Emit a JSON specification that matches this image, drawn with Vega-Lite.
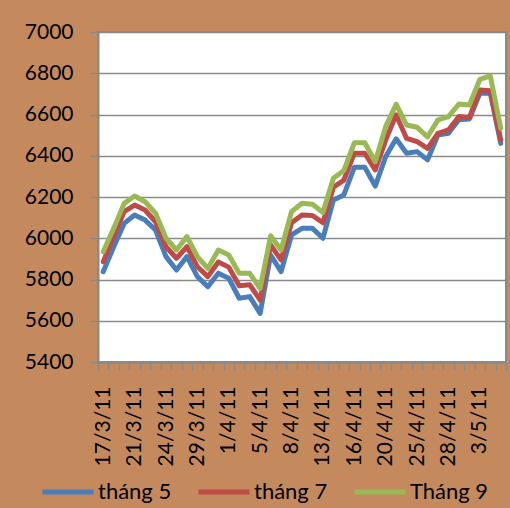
{
"$schema": "https://vega.github.io/schema/vega-lite/v6.json",
"width": 408, "height": 330,
"autosize": {"type": "none"},
"padding": {"left": 98, "top": 32, "right": 4, "bottom": 146},
"background": "#C48A5E",
"data": {"values": [
{"d":"17/3/11","s":"tháng 5","v":5838},{"d":"18/3/11","s":"tháng 5","v":5959},{"d":"19/3/11","s":"tháng 5","v":6072},{"d":"21/3/11","s":"tháng 5","v":6113},{"d":"22/3/11","s":"tháng 5","v":6088},{"d":"23/3/11","s":"tháng 5","v":6040},{"d":"24/3/11","s":"tháng 5","v":5911},{"d":"25/3/11","s":"tháng 5","v":5846},{"d":"28/3/11","s":"tháng 5","v":5911},{"d":"29/3/11","s":"tháng 5","v":5814},{"d":"30/3/11","s":"tháng 5","v":5765},{"d":"31/3/11","s":"tháng 5","v":5830},{"d":"1/4/11","s":"tháng 5","v":5806},{"d":"2/4/11","s":"tháng 5","v":5709},{"d":"4/4/11","s":"tháng 5","v":5717},{"d":"5/4/11","s":"tháng 5","v":5636},{"d":"6/4/11","s":"tháng 5","v":5919},{"d":"7/4/11","s":"tháng 5","v":5838},{"d":"8/4/11","s":"tháng 5","v":6016},{"d":"11/4/11","s":"tháng 5","v":6048},{"d":"12/4/11","s":"tháng 5","v":6048},{"d":"13/4/11","s":"tháng 5","v":6000},{"d":"14/4/11","s":"tháng 5","v":6185},{"d":"15/4/11","s":"tháng 5","v":6210},{"d":"16/4/11","s":"tháng 5","v":6344},{"d":"18/4/11","s":"tháng 5","v":6344},{"d":"19/4/11","s":"tháng 5","v":6253},{"d":"20/4/11","s":"tháng 5","v":6396},{"d":"21/4/11","s":"tháng 5","v":6482},{"d":"22/4/11","s":"tháng 5","v":6412},{"d":"25/4/11","s":"tháng 5","v":6420},{"d":"26/4/11","s":"tháng 5","v":6380},{"d":"27/4/11","s":"tháng 5","v":6501},{"d":"28/4/11","s":"tháng 5","v":6509},{"d":"29/4/11","s":"tháng 5","v":6575},{"d":"2/5/11","s":"tháng 5","v":6578},{"d":"3/5/11","s":"tháng 5","v":6703},{"d":"4/5/11","s":"tháng 5","v":6703},{"d":"5/5/11","s":"tháng 5","v":6460},
{"d":"17/3/11","s":"tháng 7","v":5886},{"d":"18/3/11","s":"tháng 7","v":6008},{"d":"19/3/11","s":"tháng 7","v":6129},{"d":"21/3/11","s":"tháng 7","v":6161},{"d":"22/3/11","s":"tháng 7","v":6137},{"d":"23/3/11","s":"tháng 7","v":6080},{"d":"24/3/11","s":"tháng 7","v":5959},{"d":"25/3/11","s":"tháng 7","v":5903},{"d":"28/3/11","s":"tháng 7","v":5959},{"d":"29/3/11","s":"tháng 7","v":5862},{"d":"30/3/11","s":"tháng 7","v":5814},{"d":"31/3/11","s":"tháng 7","v":5885},{"d":"1/4/11","s":"tháng 7","v":5860},{"d":"2/4/11","s":"tháng 7","v":5770},{"d":"4/4/11","s":"tháng 7","v":5775},{"d":"5/4/11","s":"tháng 7","v":5700},{"d":"6/4/11","s":"tháng 7","v":5967},{"d":"7/4/11","s":"tháng 7","v":5895},{"d":"8/4/11","s":"tháng 7","v":6075},{"d":"11/4/11","s":"tháng 7","v":6113},{"d":"12/4/11","s":"tháng 7","v":6110},{"d":"13/4/11","s":"tháng 7","v":6075},{"d":"14/4/11","s":"tháng 7","v":6247},{"d":"15/4/11","s":"tháng 7","v":6282},{"d":"16/4/11","s":"tháng 7","v":6412},{"d":"18/4/11","s":"tháng 7","v":6412},{"d":"19/4/11","s":"tháng 7","v":6331},{"d":"20/4/11","s":"tháng 7","v":6476},{"d":"21/4/11","s":"tháng 7","v":6598},{"d":"22/4/11","s":"tháng 7","v":6484},{"d":"25/4/11","s":"tháng 7","v":6468},{"d":"26/4/11","s":"tháng 7","v":6436},{"d":"27/4/11","s":"tháng 7","v":6509},{"d":"28/4/11","s":"tháng 7","v":6525},{"d":"29/4/11","s":"tháng 7","v":6590},{"d":"2/5/11","s":"tháng 7","v":6585},{"d":"3/5/11","s":"tháng 7","v":6719},{"d":"4/5/11","s":"tháng 7","v":6715},{"d":"5/5/11","s":"tháng 7","v":6476},
{"d":"17/3/11","s":"Tháng 9","v":5935},{"d":"18/3/11","s":"Tháng 9","v":6048},{"d":"19/3/11","s":"Tháng 9","v":6169},{"d":"21/3/11","s":"Tháng 9","v":6205},{"d":"22/3/11","s":"Tháng 9","v":6177},{"d":"23/3/11","s":"Tháng 9","v":6121},{"d":"24/3/11","s":"Tháng 9","v":6000},{"d":"25/3/11","s":"Tháng 9","v":5943},{"d":"28/3/11","s":"Tháng 9","v":6008},{"d":"29/3/11","s":"Tháng 9","v":5911},{"d":"30/3/11","s":"Tháng 9","v":5854},{"d":"31/3/11","s":"Tháng 9","v":5943},{"d":"1/4/11","s":"Tháng 9","v":5919},{"d":"2/4/11","s":"Tháng 9","v":5830},{"d":"4/4/11","s":"Tháng 9","v":5830},{"d":"5/4/11","s":"Tháng 9","v":5757},{"d":"6/4/11","s":"Tháng 9","v":6012},{"d":"7/4/11","s":"Tháng 9","v":5943},{"d":"8/4/11","s":"Tháng 9","v":6129},{"d":"11/4/11","s":"Tháng 9","v":6170},{"d":"12/4/11","s":"Tháng 9","v":6165},{"d":"13/4/11","s":"Tháng 9","v":6125},{"d":"14/4/11","s":"Tháng 9","v":6291},{"d":"15/4/11","s":"Tháng 9","v":6328},{"d":"16/4/11","s":"Tháng 9","v":6463},{"d":"18/4/11","s":"Tháng 9","v":6463},{"d":"19/4/11","s":"Tháng 9","v":6371},{"d":"20/4/11","s":"Tháng 9","v":6541},{"d":"21/4/11","s":"Tháng 9","v":6650},{"d":"22/4/11","s":"Tháng 9","v":6549},{"d":"25/4/11","s":"Tháng 9","v":6538},{"d":"26/4/11","s":"Tháng 9","v":6492},{"d":"27/4/11","s":"Tháng 9","v":6574},{"d":"28/4/11","s":"Tháng 9","v":6590},{"d":"29/4/11","s":"Tháng 9","v":6651},{"d":"2/5/11","s":"Tháng 9","v":6646},{"d":"3/5/11","s":"Tháng 9","v":6770},{"d":"4/5/11","s":"Tháng 9","v":6787},{"d":"5/5/11","s":"Tháng 9","v":6533}
]},
"mark": {"type": "line", "strokeWidth": 5, "strokeJoin": "round", "strokeCap": "round"},
"encoding": {
  "x": {"field": "d", "type": "ordinal", "sort": null, "bandPosition": 0.5,
    "scale": {"type": "band", "paddingInner": 0, "paddingOuter": 0},
    "axis": {"title": null, "labelAngle": -90, "labelOverlap": false, "tickBand": "extent", "grid": false,
      "labelExpr": "indexof(['17/3/11','21/3/11','24/3/11','29/3/11','1/4/11','5/4/11','8/4/11','13/4/11','16/4/11','20/4/11','25/4/11','28/4/11','3/5/11'], datum.value) >= 0 ? datum.value : ''",
      "tickColor": "#8a8a8a", "tickSize": 8, "tickWidth": 1.5, "domainColor": "#8a8a8a", "domainWidth": 2,
      "labelFont": "Lato", "labelFontSize": 21, "labelColor": "#000000", "labelPadding": 16}},
  "y": {"field": "v", "type": "quantitative",
    "scale": {"domain": [5400, 7000], "nice": false, "zero": false},
    "axis": {"title": null, "values": [5400, 5600, 5800, 6000, 6200, 6400, 6600, 6800, 7000], "format": "d",
      "gridColor": "#8a8a8a", "gridWidth": 1.5, "tickColor": "#8a8a8a", "tickSize": 8, "tickWidth": 1.5,
      "domainColor": "#8a8a8a", "domainWidth": 2,
      "labelFont": "Lato", "labelFontSize": 21, "labelColor": "#000000", "labelPadding": 17}},
  "color": {"field": "s", "type": "nominal",
    "scale": {"domain": ["tháng 5", "tháng 7", "Tháng 9"], "range": ["#4A7EBB", "#BE4B48", "#98B954"]},
    "legend": {"title": null, "orient": "none", "legendX": -58, "legendY": 432, "direction": "horizontal",
      "symbolType": "stroke", "symbolSize": 2600, "symbolStrokeWidth": 5, "symbolOpacity": 1,
      "labelFont": "Lato", "labelFontSize": 22, "labelColor": "#000000", "labelOffset": 2,
      "columnPadding": 16, "padding": 0}}
},
"config": {"view": {"fill": "white", "stroke": "#8a8a8a", "strokeWidth": 2}}
}
